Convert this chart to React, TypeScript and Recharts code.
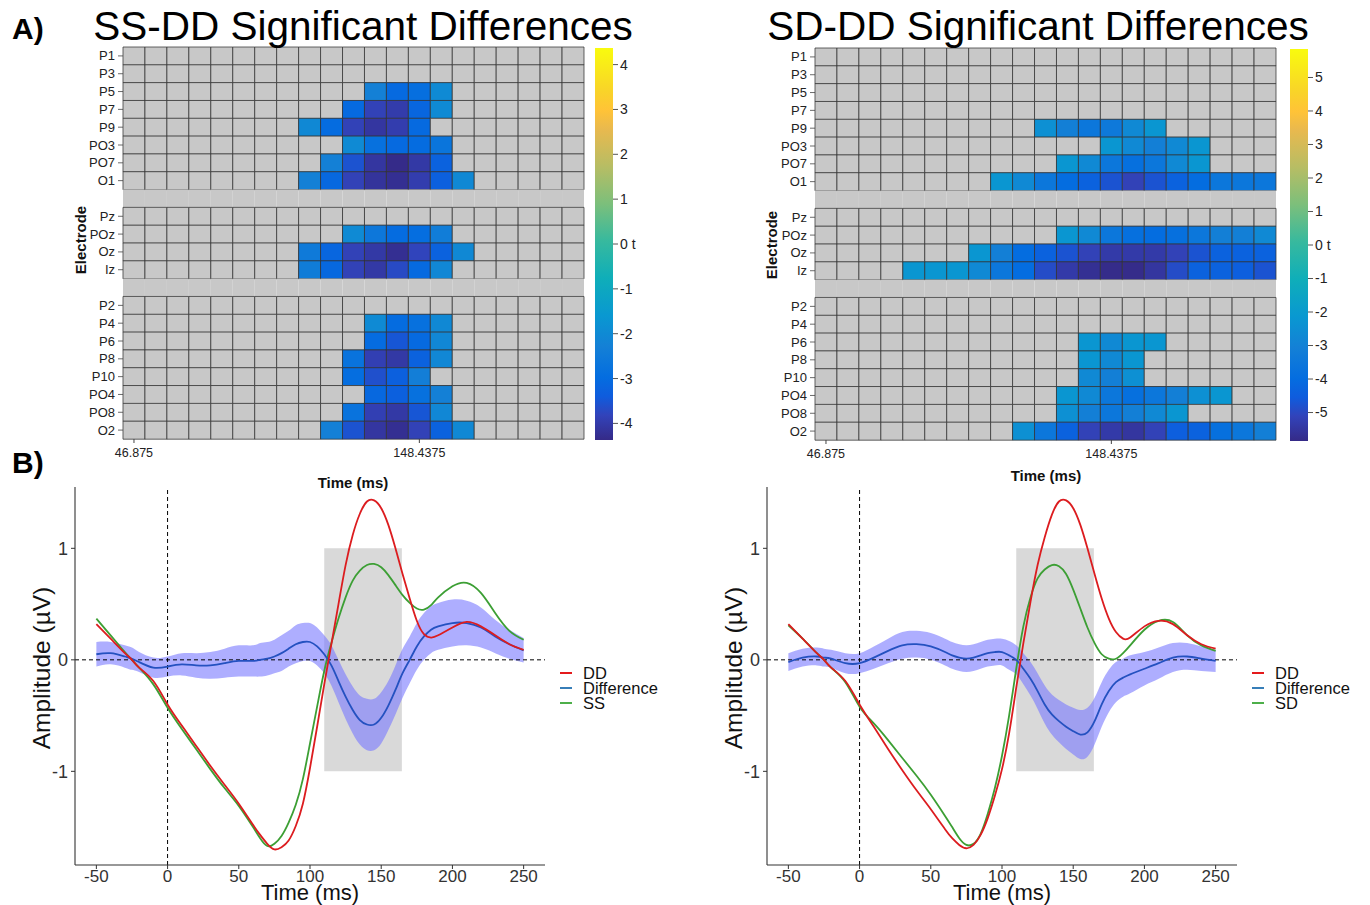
import React from 'react';
import {
  BarChart, Bar, Cell, XAxis, YAxis, ComposedChart, Area, Line,
  ReferenceArea, ReferenceLine,
} from 'recharts';

const FONT = '"Liberation Sans", Arial, Helvetica, sans-serif';

// ---------- Heatmap data ----------
const electrodeRows = ['P1', 'P3', 'P5', 'P7', 'P9', 'PO3', 'PO7', 'O1', 'gap1', 'Pz', 'POz', 'Oz', 'Iz', 'gap2', 'P2', 'P4', 'P6', 'P8', 'P10', 'PO4', 'PO8', 'O2'];
const heatTimes = ['46.875', '54.6875', '62.5', '70.3125', '78.125', '85.9375', '93.75', '101.5625', '109.375', '117.1875', '125', '132.8125', '140.625', '148.4375', '156.25', '164.0625', '171.875', '179.6875', '187.5', '195.3125', '203.125'];
const heatTickIdx = [0, 13];

const N_COLS = heatTimes.length;
const sig = (start: number, vals: number[]) => {
  const out: number[] = new Array(N_COLS).fill(0);
  vals.forEach((v, i) => { out[start + i] = v; });
  return out;
};

// SS-DD significant t-values (0 = not significant)
const ssddT: Record<string, number[]> = {
  P1: sig(0, []),
  P3: sig(0, []),
  P5: sig(11, [-2.3, -3.05, -2.9, -2.0]),
  P7: sig(10, [-3.05, -3.85, -3.98, -3.15, -2.0]),
  P9: sig(8, [-2.05, -3.0, -3.85, -4.1, -3.95, -3.05]),
  PO3: sig(10, [-2.0, -2.85, -3.05, -3.0, -2.7]),
  PO7: sig(9, [-2.3, -3.55, -4.1, -4.35, -4.05, -3.25]),
  O1: sig(8, [-2.3, -3.1, -3.85, -4.15, -4.25, -3.95, -3.3, -2.05]),
  Pz: sig(0, []),
  POz: sig(10, [-2.0, -2.6, -3.0, -2.95, -2.4]),
  Oz: sig(8, [-2.5, -3.15, -3.85, -4.05, -4.25, -3.8, -3.25, -2.05]),
  Iz: sig(8, [-2.45, -3.1, -3.85, -4.05, -3.7, -3.05, -2.1]),
  P2: sig(0, []),
  P4: sig(11, [-2.0, -3.0, -2.85, -2.05]),
  P6: sig(11, [-3.0, -3.5, -3.05, -2.1]),
  P8: sig(10, [-2.75, -3.9, -4.05, -3.25, -2.1]),
  P10: sig(10, [-2.95, -3.6, -3.3, -2.35]),
  PO4: sig(11, [-3.1, -3.3, -2.85, -2.3]),
  PO8: sig(10, [-2.75, -3.9, -4.05, -3.5, -2.1]),
  O2: sig(9, [-2.3, -3.55, -4.1, -4.25, -3.85, -3.25, -2.05]),
};

// SD-DD significant t-values
const sdddT: Record<string, number[]> = {
  P1: sig(0, []),
  P3: sig(0, []),
  P5: sig(0, []),
  P7: sig(0, []),
  P9: sig(10, [-2.45, -3.1, -3.5, -3.4, -2.7, -2.2]),
  PO3: sig(13, [-2.2, -2.7, -3.1, -2.7, -2.2]),
  PO7: sig(11, [-2.2, -2.7, -3.5, -3.85, -3.5, -2.7, -2.2]),
  O1: sig(8, [-2.2, -2.7, -3.5, -4.0, -4.35, -4.75, -5.15, -4.75, -4.35, -4.0, -3.5, -3.5, -3.5]),
  Pz: sig(0, []),
  POz: sig(11, [-2.2, -2.7, -3.5, -3.85, -4.0, -3.85, -3.5, -3.1, -3.1, -2.7]),
  Oz: sig(7, [-2.2, -3.1, -4.0, -4.35, -4.75, -5.15, -5.38, -5.38, -5.38, -5.15, -4.75, -4.35, -4.35, -4.35]),
  Iz: sig(4, [-2.2, -2.2, -2.2, -2.7, -3.5, -4.0, -4.9, -5.38, -5.67, -5.8, -5.8, -5.5, -4.9, -4.35, -4.35, -4.45, -4.75]),
  P2: sig(0, []),
  P4: sig(0, []),
  P6: sig(12, [-2.2, -2.7, -2.2, -2.2]),
  P8: sig(12, [-2.2, -2.7, -2.2]),
  P10: sig(12, [-2.7, -3.1, -2.45]),
  PO4: sig(11, [-2.2, -2.7, -3.5, -3.85, -3.5, -3.1, -2.45, -2.2]),
  PO8: sig(11, [-2.45, -3.1, -3.5, -3.1, -2.7, -2.2]),
  O2: sig(9, [-2.45, -3.5, -4.35, -5.15, -5.38, -5.5, -5.15, -4.45, -4.35, -3.85, -3.5, -3.1]),
};

const heatMaxL = 4.37;
const heatMaxR = 5.85;
const cbTicksL = [-4, -3, -2, -1, 0, 1, 2, 3, 4];
const cbTicksR = [-5, -4, -3, -2, -1, 0, 1, 2, 3, 4, 5];

// ---------- ERP data ----------
const erpTimes = [-50, -40, -30, -25, -20, -10, 0, 10, 20, 30, 40, 50, 60, 65, 70, 75, 80, 85, 90, 95, 100, 105, 110, 115, 120, 125, 130, 135, 140, 145, 150, 155, 160, 165, 170, 175, 180, 185, 190, 200, 210, 220, 230, 240, 250];
const erpXTicks = [-50, 0, 50, 100, 150, 200, 250];
const erpYTicks = [-1, 0, 1];

const ddLeft = [0.32, 0.19, 0.06, 0.0, -0.07, -0.19, -0.40, -0.59, -0.77, -0.95, -1.12, -1.29, -1.48, -1.57, -1.65, -1.70, -1.68, -1.62, -1.49, -1.29, -0.97, -0.60, -0.22, 0.14, 0.50, 0.85, 1.12, 1.31, 1.42, 1.43, 1.36, 1.21, 1.00, 0.77, 0.55, 0.35, 0.23, 0.20, 0.22, 0.29, 0.34, 0.30, 0.22, 0.14, 0.09];
const ssLeft = [0.37, 0.22, 0.07, 0.0, -0.07, -0.22, -0.43, -0.62, -0.80, -0.98, -1.15, -1.31, -1.50, -1.60, -1.67, -1.65, -1.58, -1.46, -1.30, -1.07, -0.75, -0.42, -0.10, 0.15, 0.37, 0.56, 0.71, 0.80, 0.85, 0.86, 0.83, 0.76, 0.67, 0.58, 0.51, 0.46, 0.45, 0.49, 0.56, 0.66, 0.69, 0.60, 0.42, 0.26, 0.18];
const diffLeft = [0.05, 0.06, 0.03, 0.01, -0.02, -0.07, -0.06, -0.04, -0.05, -0.05, -0.03, -0.01, -0.01, 0.0, 0.01, 0.03, 0.06, 0.10, 0.14, 0.16, 0.16, 0.12, 0.05, -0.05, -0.19, -0.33, -0.45, -0.54, -0.58, -0.58, -0.52, -0.41, -0.27, -0.12, 0.0, 0.12, 0.21, 0.27, 0.30, 0.33, 0.33, 0.29, 0.21, 0.14, 0.085];
const halfLeft = [0.11, 0.10, 0.10, 0.10, 0.09, 0.09, 0.09, 0.10, 0.11, 0.12, 0.13, 0.14, 0.14, 0.15, 0.15, 0.15, 0.16, 0.16, 0.17, 0.17, 0.17, 0.17, 0.17, 0.18, 0.19, 0.20, 0.21, 0.22, 0.23, 0.23, 0.23, 0.22, 0.22, 0.22, 0.21, 0.21, 0.21, 0.21, 0.21, 0.21, 0.20, 0.18, 0.15, 0.13, 0.11];

const ddRight = [0.32, 0.19, 0.06, 0.0, -0.07, -0.19, -0.40, -0.60, -0.80, -0.99, -1.17, -1.34, -1.52, -1.60, -1.66, -1.69, -1.66, -1.57, -1.42, -1.22, -0.98, -0.66, -0.25, 0.15, 0.52, 0.85, 1.10, 1.30, 1.42, 1.43, 1.36, 1.21, 1.00, 0.77, 0.55, 0.37, 0.25, 0.19, 0.20, 0.30, 0.35, 0.32, 0.22, 0.14, 0.10];
const sdRight = [0.31, 0.19, 0.06, 0.0, -0.07, -0.20, -0.42, -0.57, -0.72, -0.88, -1.04, -1.21, -1.40, -1.50, -1.60, -1.66, -1.65, -1.56, -1.38, -1.15, -0.86, -0.50, -0.08, 0.30, 0.56, 0.73, 0.81, 0.85, 0.84, 0.77, 0.63, 0.46, 0.29, 0.15, 0.05, 0.01, 0.01, 0.06, 0.13, 0.27, 0.35, 0.34, 0.22, 0.13, 0.08];
const diffRight = [-0.02, 0.02, 0.03, 0.02, 0.01, -0.03, -0.03, 0.02, 0.08, 0.13, 0.14, 0.12, 0.07, 0.04, 0.02, 0.01, 0.02, 0.04, 0.06, 0.07, 0.07, 0.04, 0.0, -0.08, -0.17, -0.28, -0.40, -0.49, -0.55, -0.60, -0.64, -0.67, -0.65, -0.55, -0.40, -0.28, -0.20, -0.16, -0.13, -0.08, -0.03, 0.02, 0.03, 0.01, -0.01];
const halfRight = [0.08, 0.08, 0.08, 0.08, 0.08, 0.09, 0.09, 0.10, 0.11, 0.12, 0.12, 0.12, 0.12, 0.12, 0.12, 0.12, 0.12, 0.12, 0.12, 0.12, 0.12, 0.13, 0.13, 0.14, 0.15, 0.16, 0.17, 0.18, 0.19, 0.20, 0.21, 0.22, 0.22, 0.21, 0.20, 0.19, 0.18, 0.17, 0.17, 0.15, 0.14, 0.13, 0.12, 0.11, 0.10];

const sigWindow = { x1: 110, x2: 164.5, y1: -1, y2: 1 };

// ---------- colours ----------
const parulaStops: [number, string][] = [
  [0, '#352a87'], [0.063, '#3243ba'], [0.111, '#0f5cdd'], [0.159, '#046de0'],
  [0.238, '#1480d6'], [0.317, '#0998d1'], [0.413, '#0faeb9'], [0.508, '#37b99e'],
  [0.603, '#7cbf7b'], [0.698, '#b7bd64'], [0.794, '#e9b94e'], [0.841, '#ffc337'],
  [0.889, '#f9d329'], [1, '#f9fb0e'],
];
const hex = (h: string) => [1, 3, 5].map((i) => parseInt(h.slice(i, i + 2), 16));
const parula = (f: number) => {
  const x = Math.max(0, Math.min(1, f));
  for (let i = 0; i < parulaStops.length - 1; i++) {
    const [p0, c0] = parulaStops[i];
    const [p1, c1] = parulaStops[i + 1];
    if (x <= p1) {
      const u = (x - p0) / (p1 - p0);
      const a = hex(c0), b = hex(c1);
      const c = a.map((v, k) => Math.round(v + (b[k] - v) * u));
      return `rgb(${c[0]},${c[1]},${c[2]})`;
    }
  }
  return parulaStops[parulaStops.length - 1][1];
};
const GREY = '#c8c8c8';
const RED = '#dc1c1f';
const GREEN = '#3c9f34';
const BLUE = '#2451c0';

// ---------- components ----------
const RowTick = (props: any) => {
  const { x, y, payload } = props;
  const v = String(payload.value);
  if (v.startsWith('gap')) return <g />;
  return (
    <g>
      <line x1={x + 3} x2={x + 8} y1={y} y2={y} stroke="#444" strokeWidth={0.8} />
      <text x={x} y={y} dy={4.5} textAnchor="end" fontSize={13} fill="#222" fontFamily={FONT}>{v}</text>
    </g>
  );
};

function Heatmap({ tvals, vmax }: { tvals: Record<string, number[]>; vmax: number }) {
  const data = electrodeRows.map((row) => {
    const o: any = { row };
    heatTimes.forEach((_, k) => { o['c' + k] = 1; });
    return o;
  });
  return (
    <BarChart width={600} height={500} data={data} layout="vertical"
      margin={{ top: 47, right: 16, bottom: 0, left: 0 }} barCategoryGap={0} barGap={0}>
      <XAxis type="number" domain={[0, N_COLS]} ticks={heatTickIdx.map((i) => i + 0.5)}
        tickFormatter={(v: number) => heatTimes[Math.floor(v)]} axisLine={false}
        tickLine={{ stroke: '#444' }} tickSize={4} tickMargin={5} height={61}
        tick={{ fontSize: 12.5, fill: '#222', fontFamily: FONT }} />
      <YAxis type="category" dataKey="row" width={123} axisLine={false} tickLine={false}
        tickSize={6} tickMargin={2} interval={0} tick={<RowTick />} />
      {heatTimes.map((_, k) => (
        <Bar key={k} dataKey={'c' + k} stackId="a" isAnimationActive={false}>
          {electrodeRows.map((row, i) => {
            const gap = row.startsWith('gap');
            const t = gap ? 0 : tvals[row][k];
            const fill = t === 0 ? GREY : parula((t + vmax) / (2 * vmax));
            return <Cell key={i} fill={fill} stroke={gap ? 'none' : '#333'} strokeWidth={gap ? 0 : 0.75} />;
          })}
        </Bar>
      ))}
    </BarChart>
  );
}

function ColorBar({ vmax, ticks, gradId }: { vmax: number; ticks: number[]; gradId: string }) {
  const data = [{ name: 't', range: [-vmax, vmax] }];
  return (
    <BarChart width={60} height={500} data={data} margin={{ top: 48, right: 0, bottom: 60, left: 0 }}
      barCategoryGap={0} barGap={0}>
      <XAxis dataKey="name" type="category" hide />
      <YAxis orientation="right" type="number" domain={[-vmax, vmax]} ticks={ticks} width={42}
        axisLine={false} tickLine={{ stroke: '#555' }} tickSize={5} tickMargin={2}
        tickFormatter={(v: number) => (v === 0 ? '0 t' : String(v))}
        tick={{ fontSize: 14, fill: '#222', fontFamily: FONT }} allowDataOverflow />
      <Bar dataKey="range" fill={`url(#${gradId})`} isAnimationActive={false} />
    </BarChart>
  );
}

function ErpPlot({ dd, other, diff, half }: { dd: number[]; other: number[]; diff: number[]; half: number[] }) {
  const data = erpTimes.map((t, i) => ({
    t, dd: dd[i], other: other[i], diff: diff[i], band: [diff[i] - half[i], diff[i] + half[i]],
  }));
  return (
    <ComposedChart width={680} height={435} data={data} margin={{ top: 17, right: 135, bottom: 0, left: 0 }}>
      <XAxis dataKey="t" type="number" domain={[-65, 265]} ticks={erpXTicks} height={40}
        axisLine={{ stroke: '#333', strokeWidth: 1.1 }} tickLine={{ stroke: '#333' }} tickSize={4} tickMargin={1}
        tick={{ fontSize: 17, fill: '#333', fontFamily: FONT }} allowDataOverflow />
      <YAxis type="number" domain={[-1.84, 1.55]} ticks={erpYTicks} width={75}
        axisLine={{ stroke: '#333', strokeWidth: 1.1 }} tickLine={{ stroke: '#333' }} tickSize={4} tickMargin={3}
        tick={{ fontSize: 18, fill: '#333', fontFamily: FONT }} allowDataOverflow />
      <ReferenceArea x1={sigWindow.x1} x2={sigWindow.x2} y1={sigWindow.y1} y2={sigWindow.y2}
        fill="#d9d9d9" fillOpacity={1} stroke="none" />
      <Area dataKey="band" type="natural" stroke="none" fill="#7878ff" fillOpacity={0.6}
        isAnimationActive={false} dot={false} activeDot={false} />
      <ReferenceLine x={0} stroke="#000" strokeDasharray="4 3" strokeWidth={1} />
      <ReferenceLine y={0} stroke="#000" strokeDasharray="4 3" strokeWidth={1} />
      <Line dataKey="other" type="natural" stroke={GREEN} strokeWidth={1.8} dot={false} activeDot={false} isAnimationActive={false} />
      <Line dataKey="diff" type="natural" stroke={BLUE} strokeWidth={1.8} dot={false} activeDot={false} isAnimationActive={false} />
      <Line dataKey="dd" type="natural" stroke={RED} strokeWidth={1.8} dot={false} activeDot={false} isAnimationActive={false} />
    </ComposedChart>
  );
}

const abs = (left: number, top: number): React.CSSProperties => ({ position: 'absolute', left, top });

const RIGHT = 692;

function Legend({ x, names }: { x: number; names: string[] }) {
  const cols = ['#e41a1c', '#377eb8', '#4daf4a'];
  return (
    <g>
      {names.map((n, i) => (
        <g key={n}>
          <line x1={x} x2={x + 12} y1={673 + i * 15} y2={673 + i * 15} stroke={cols[i]} strokeWidth={2} />
          <text x={x + 23} y={678.5 + i * 15} fontSize={16.5} fill="#111" fontFamily={FONT}>{n}</text>
        </g>
      ))}
    </g>
  );
}

export default function App() {
  return (
    <div style={{ position: 'absolute', left: 0, top: 0, width: 1370, height: 905, background: '#fff', fontFamily: FONT }}>
      <svg width={1} height={1} style={{ position: 'absolute', left: 0, top: 0 }}>
        <defs>
          {['gradL', 'gradR'].map((id) => (
            <linearGradient key={id} id={id} x1="0" y1="1" x2="0" y2="0">
              {parulaStops.map(([p, c]) => <stop key={p} offset={p} stopColor={c} />)}
            </linearGradient>
          ))}
        </defs>
      </svg>

      <div style={abs(0, 0)}><Heatmap tvals={ssddT} vmax={heatMaxL} /></div>
      <div style={abs(RIGHT, 1)}><Heatmap tvals={sdddT} vmax={heatMaxR} /></div>
      <div style={abs(595, 0)}><ColorBar vmax={heatMaxL} ticks={cbTicksL} gradId="gradL" /></div>
      <div style={abs(595 + 695, 1)}><ColorBar vmax={heatMaxR} ticks={cbTicksR} gradId="gradR" /></div>

      <div style={abs(0, 470)}><ErpPlot dd={ddLeft} other={ssLeft} diff={diffLeft} half={halfLeft} /></div>
      <div style={abs(RIGHT, 470)}><ErpPlot dd={ddRight} other={sdRight} diff={diffRight} half={halfRight} /></div>

      <svg width={1370} height={905} style={{ position: 'absolute', left: 0, top: 0, pointerEvents: 'none' }}>
        <text x={12} y={39} fontSize={30} fontWeight="bold" fontFamily={FONT} fill="#000">A)</text>
        <text x={12} y={473} fontSize={30} fontWeight="bold" fontFamily={FONT} fill="#000">B)</text>
        <text x={363} y={40} fontSize={40.5} textAnchor="middle" fontFamily={FONT} fill="#000">SS-DD Significant Differences</text>
        <text x={1038} y={40} fontSize={40.5} textAnchor="middle" fontFamily={FONT} fill="#000">SD-DD Significant Differences</text>

        <text transform="translate(85.5,240) rotate(-90)" fontSize={15} fontWeight="bold" textAnchor="middle" fontFamily={FONT} fill="#111">Electrode</text>
        <text transform="translate(776.5,245) rotate(-90)" fontSize={15} fontWeight="bold" textAnchor="middle" fontFamily={FONT} fill="#111">Electrode</text>
        <text x={353} y={488} fontSize={15} fontWeight="bold" textAnchor="middle" fontFamily={FONT} fill="#111">Time (ms)</text>
        <text x={1046} y={481} fontSize={15} fontWeight="bold" textAnchor="middle" fontFamily={FONT} fill="#111">Time (ms)</text>

        <text transform="translate(50,668) rotate(-90)" fontSize={24.5} textAnchor="middle" fontFamily={FONT} fill="#111">Amplitude (µV)</text>
        <text transform={`translate(${50 + RIGHT},668) rotate(-90)`} fontSize={24.5} textAnchor="middle" fontFamily={FONT} fill="#111">Amplitude (µV)</text>
        <text x={310} y={900} fontSize={22} textAnchor="middle" fontFamily={FONT} fill="#111">Time (ms)</text>
        <text x={310 + RIGHT} y={900} fontSize={22} textAnchor="middle" fontFamily={FONT} fill="#111">Time (ms)</text>

        <Legend x={560} names={['DD', 'Difference', 'SS']} />
        <Legend x={560 + RIGHT} names={['DD', 'Difference', 'SD']} />
      </svg>
    </div>
  );
}
